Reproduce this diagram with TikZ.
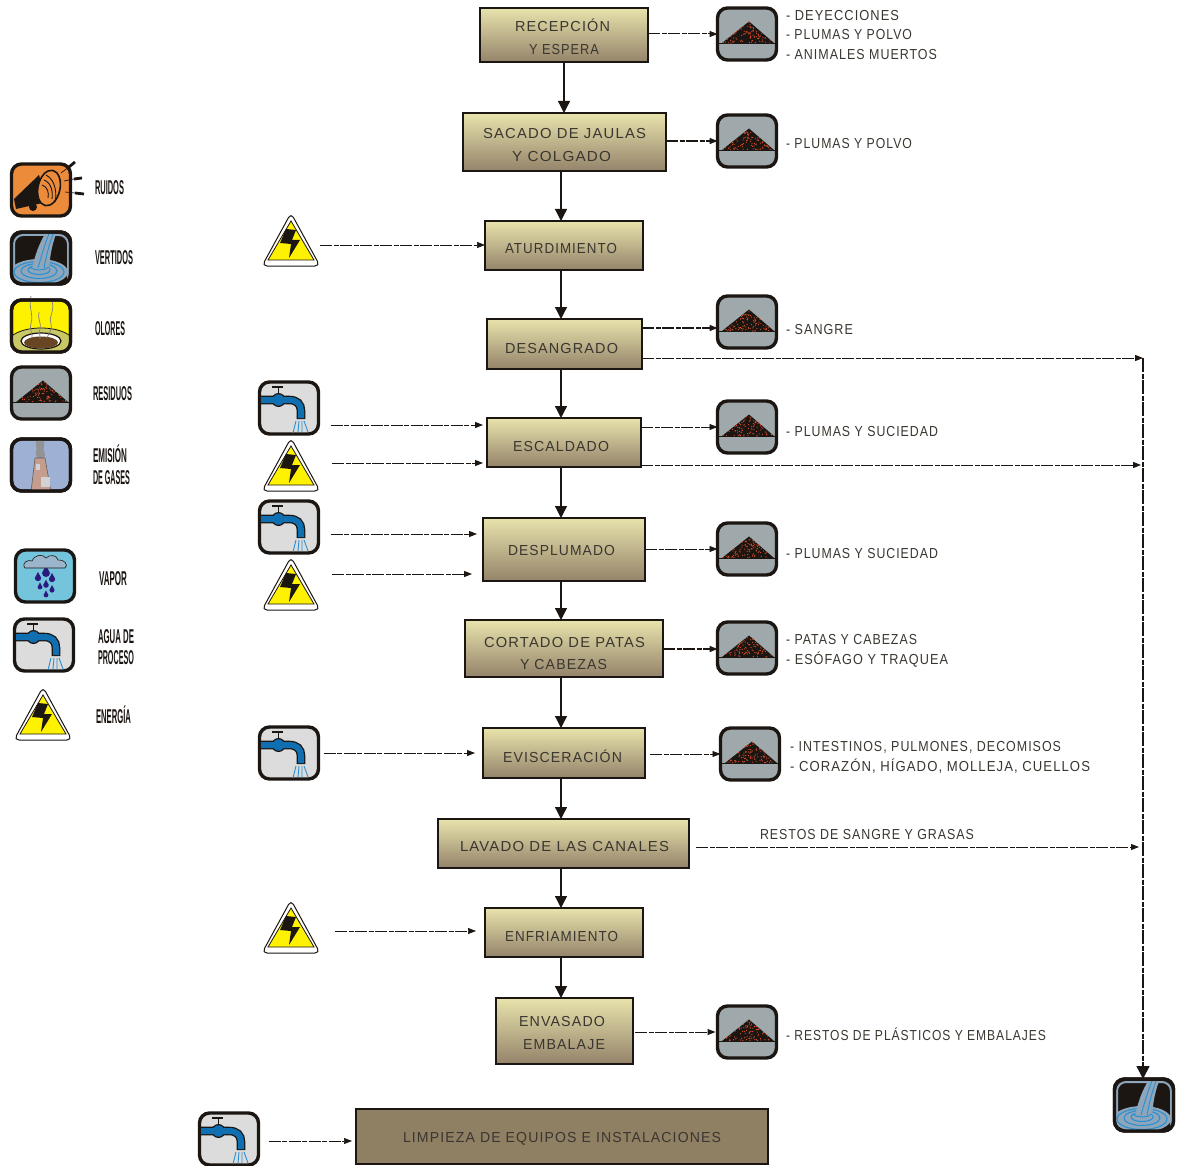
\documentclass[tikz,border=0pt]{standalone}
\usepackage{fontspec}
\usepackage{graphicx}
\usetikzlibrary{arrows.meta}
\setmainfont{Liberation Sans}
\newfontfamily\flowfont[LetterSpace=8]{Liberation Sans}
\newfontfamily\legfont{Liberation Sans Bold}
\definecolor{inkc}{HTML}{1C1613}
\definecolor{txtc}{HTML}{3A3630}
\definecolor{boxt}{HTML}{E8E3AC}
\definecolor{boxb}{HTML}{94836A}
\definecolor{limp}{HTML}{8F7F63}
\definecolor{resg}{HTML}{9FA8AA}
\definecolor{spark}{HTML}{E8502A}
\definecolor{tapg}{HTML}{DCDCDC}
\definecolor{tapb}{HTML}{0F6FB0}
\definecolor{dropb}{HTML}{2B8FD0}
\definecolor{verg}{HTML}{8EA6BC}
\definecolor{orng}{HTML}{EC8C3A}
\definecolor{olive}{HTML}{C8C864}
\definecolor{emib}{HTML}{9FB0D5}
\definecolor{chim}{HTML}{C49D8F}
\definecolor{vapb}{HTML}{74C4DC}
\definecolor{vapc}{HTML}{9AB5CC}
\definecolor{vapd}{HTML}{2A1A80}
\tikzset{
  stepbox/.style={draw=inkc,line width=1.6pt,top color=boxt,bottom color=boxb,inner sep=0,outer sep=0},
  flatbox/.style={draw=inkc,line width=1.6pt,fill=limp,inner sep=0,outer sep=0},
  icobox/.style={draw=inkc,line width=3.4pt,rounded corners=10pt,minimum width=59pt,minimum height=52pt,inner sep=0,outer sep=0},
  enebox/.style={minimum width=58pt,minimum height=52pt,inner sep=0,outer sep=0},
  icoframe/.style={draw=inkc,line width=3.4pt,rounded corners=10pt},
  lab/.style={anchor=base west,inner sep=0,outer sep=0,text=txtc},
  leg/.style={anchor=base west,inner sep=0,outer sep=0,text=inkc},
  flow/.style={draw=inkc,line width=1.3pt,-{Triangle[width=12pt,length=12pt]}},
  sidearr/.style={draw=inkc,line width=1pt,dash pattern=on 12pt off 1.5pt on 5pt off 1.5pt,-{Triangle[width=6pt,length=8pt]}},
  sidethick/.style={sidearr,line width=1.5pt},
  sidethin/.style={sidearr,line width=.7pt},
}
\newcommand\fw[2]{\resizebox{#1pt}{\height}{#2}}
\newcommand\lbl[5]{\node[lab] (#1) at (#2,#3+5) {\fw{#4}{\fontsize{14.5}{15}\flowfont #5}};}
\newcommand\lgd[5]{\node[leg] (#1) at (#2,#3+7) {\fw{#4}{\fontsize{20}{21}\legfont #5}};}
\newcommand\bx[6][stepbox]{\node[#1,minimum width={(#5-#3)*1pt},minimum height={(#6-#4)*1pt}] (#2) at ({(#3+#5)/2},{(#4+#6)/2}) {};}
\newcommand\icoRes[3]{%
  \node[icobox,fill=resg] (#1) at (#2,#3) {};
  \begin{scope}[shift={(#1.center)}]
    \draw[inkc,line width=.6pt] (-28,9) -- (28,9);
    \fill[inkc] (2,-12.5) -- (27,9) -- (-25,9) -- cycle;
    \foreach \i in {1,...,85}{
      \pgfmathsetmacro\su{sqrt(rnd)}
      \pgfmathsetmacro\vv{rnd}
      \fill[spark] ({2*(1-\su)+\su*(1-\vv)*(-25)+\su*\vv*27},{-12.5*(1-\su)+\su*9}) circle (.6);
    }
  \end{scope}}
\newcommand\icoTap[3]{%
  \node[icobox,fill=tapg] (#1) at (#2,#3) {};
  \begin{scope}[shift={(#1.center)}]
    \draw[inkc,line width=1.6pt] (-17,-21) -- (-6,-21) (-10.5,-21) -- (-10.5,-12);
    \draw[inkc,line width=8.6pt] (-28,-8) -- (0,-8) .. controls (8,-8) and (12,-4) .. (12,3) -- (12,11);
    \fill[inkc] (-10.5,-8) circle (7);
    \draw[tapb,line width=6pt] (-28,-8) -- (0,-8) .. controls (8,-8) and (12,-4) .. (12,3) -- (12,10);
    \fill[tapb] (-10.5,-8) circle (5.7);
    \draw[dropb,line width=.9pt] (7,13) -- (4,25) (10,13) -- (9,24) (13,13) -- (13,24) (15,13) -- (19,24);
  \end{scope}}
\newcommand\icoEne[3]{%
  \node[enebox] (#1) at (#2,#3) {};
  \begin{scope}[shift={(#1.center)}]
    \draw[inkc,line width=1pt,fill=white,rounded corners=5pt,line join=round] (0,-27) -- (29,26) -- (-29,26) -- cycle;
    \fill[yellow] (0,-19) -- (23,20) -- (-23,20) -- cycle;
    \draw[inkc,line width=.8pt] (0,-19) -- (23,20) -- (-23,20) -- cycle;
    \fill[inkc] (-5,-11) -- (5,-10) -- (1,0) -- (9,0) -- (-2,18) -- (0,4) -- (-11,3) -- cycle;
  \end{scope}}
\newcommand\icoVer[3]{%
  \node[icobox,fill=inkc] (#1) at (#2,#3) {};
  \begin{scope}[shift={(#1.center)}]
    \begin{scope}
      \clip[rounded corners=10pt] (#1.south west) rectangle (#1.north east);
      \draw[verg,line width=2pt,rounded corners=9pt] (-27,26) -- (-27,-23) -- (27,-23) -- (27,26);
      \fill[verg] (-2,14) ellipse (29 and 13);
      \draw[dropb,line width=1.1pt] (-2,14) ellipse (25 and 10.5) (-2,13) ellipse (18 and 7.5) (-2,12) ellipse (11 and 4.5);
      \fill[verg] (4,-24) -- (15,-24) .. controls (10,-10) and (9,0) .. (8,11) -- (-9,11) .. controls (-6,-3) and (-2,-14) .. (4,-24) -- cycle;
      \draw[dropb,line width=.9pt] (8,-24) .. controls (3,-12) and (0,0) .. (-3,10);
      \draw[dropb,line width=.9pt] (12,-24) .. controls (7,-10) and (5,0) .. (3,10);
      \draw[dropb,line width=1pt] (-12,9) .. controls (-6,13) and (3,13) .. (8,9);
    \end{scope}
    \draw[icoframe] (#1.south west) rectangle (#1.north east);
  \end{scope}}
\newcommand\icoRui[3]{%
  \node[icobox,fill=orng] (#1) at (#2,#3) {};
  \begin{scope}[shift={(#1.center)}]
    \fill[inkc] (-27,9) -- (-2,-15) -- (6,12) -- (-25,19) -- cycle;
    \fill[inkc] (-8,17) circle (4);
    \draw[inkc,line width=1.6pt,fill=orng,rotate around={-12:(8,-2)}] (8,-2) ellipse (11 and 18);
    \draw[inkc,line width=.9pt] (5,-15) .. controls (15,-10) and (16,5) .. (14,12);
    \draw[inkc,line width=.9pt] (3,-10) .. controls (11,-7) and (12,3) .. (11,9);
    \draw[inkc,line width=.9pt] (1,-5) .. controls (7,-3) and (8,3) .. (7,8);
    \draw[inkc,line width=.7pt] (20,-17) -- (28,-23);
    \draw[inkc,line width=2.8pt] (28,-23) -- (34,-28);
    \draw[inkc,line width=.7pt] (23,-9) -- (33,-11);
    \draw[inkc,line width=2.8pt] (33,-11) -- (41,-12);
    \draw[inkc,line width=.7pt] (24,2) -- (34,3);
    \draw[inkc,line width=2.8pt] (34,3) -- (43,4);
  \end{scope}}
\newcommand\icoOlo[3]{%
  \node[icobox,fill=yellow] (#1) at (#2,#3) {};
  \begin{scope}[shift={(#1.center)}]
    \begin{scope}
      \clip[rounded corners=10pt] (#1.south west) rectangle (#1.north east);
      \draw[inkc,fill=olive,line width=.8pt] (0,17) ellipse (33 and 15);
      \draw[inkc,fill=white,line width=1.2pt] (0,15) ellipse (20 and 8);
      \fill[brown!55!black] (0,16.5) ellipse (17 and 6);
    \end{scope}
    \draw[gray,line width=.7pt] (-10,-30) .. controls (-13,-20) and (-7,-10) .. (-10,-3) .. controls (-12,3) and (-8,8) .. (-9,12);
    \draw[gray,line width=.7pt] (-2,-14) .. controls (-4,-8) and (1,-2) .. (-1,3) .. controls (-3,7) and (0,10) .. (-1,13);
    \draw[gray,line width=.7pt] (11,-25) .. controls (14,-15) and (7,-8) .. (10,-2) .. controls (12,3) and (7,8) .. (6,12);
    \draw[icoframe] (#1.south west) rectangle (#1.north east);
  \end{scope}}
\newcommand\icoEmi[3]{%
  \node[icobox,fill=emib] (#1) at (#2,#3) {};
  \begin{scope}[shift={(#1.center)}]
    \fill[gray!85] (-4,-7) .. controls (-7,-12) and (-3,-15) .. (-5,-20) .. controls (-8,-26) and (6,-27) .. (3,-19) .. controls (1,-14) and (6,-12) .. (3,-7) -- cycle;
    \begin{scope}
      \clip[rounded corners=10pt] (#1.south west) rectangle (#1.north east);
      \draw[inkc!70,fill=chim,line width=.6pt] (-6,-7) -- (4,-7) -- (10,27) -- (-10,27) -- cycle;
    \end{scope}
    \fill[gray!35] (0,12) rectangle (9,22);
    \fill[gray!35] (-5,-1) rectangle (-1,5);
    \draw[icoframe] (#1.south west) rectangle (#1.north east);
  \end{scope}}
\newcommand\icoVap[3]{%
  \node[icobox,fill=vapb] (#1) at (#2,#3) {};
  \begin{scope}[shift={(#1.center)}]
    \foreach \dx/\dy/\ds in {-7/2/3.2,1/-3/4,7/3/3.2,-5/11/2.4,1/9/2.8,7/14/2.6,1/19/2.4}{
      \fill[vapd] (\dx,\dy-\ds*1.9) -- (\dx+\ds,\dy) arc (0:180:\ds) -- cycle;
    }
    \draw[inkc,line width=.6pt,fill=vapc] (-20,-8) .. controls (-24,-13) and (-17,-17) .. (-13,-15) .. controls (-10,-22) and (-2,-22) .. (1,-18) .. controls (5,-22) and (12,-21) .. (13,-16) .. controls (19,-17) and (24,-11) .. (20,-8) -- cycle;
  \end{scope}}
\begin{document}
\begin{tikzpicture}[x=1pt,y=-1pt]
\pgfmathsetseed{4242}
\useasboundingbox (0,0) rectangle (1177,1166);
% process boxes
\bx{rec}{480}{8}{648}{62}
\bx{sac}{463}{113}{666}{171}
\bx{atu}{485}{221}{643}{270}
\bx{des}{487}{319}{642}{369}
\bx{esc}{487}{418}{641}{467}
\bx{dpl}{483}{518}{645}{581}
\bx{cor}{465}{620}{663}{677}
\bx{evi}{483}{728}{645}{778}
\bx{lav}{438}{819}{689}{868}
\bx{enf}{485}{908}{643}{957}
\bx{env}{496}{998}{633}{1064}
\bx[flatbox]{lim}{356}{1109}{768}{1164}
% residue icons
\icoRes{r1}{747}{34}
\icoRes{r2}{747}{141}
\icoRes{r3}{747}{322}
\icoRes{r4}{747}{427}
\icoRes{r5}{747}{549}
\icoRes{r6}{747}{648}
\icoRes{r7}{750}{754}
\icoRes{r8}{747}{1032}
% inputs
\icoEne{e1}{291}{240}
\icoTap{t1}{289}{408}
\icoEne{e2}{291}{465}
\icoTap{t2}{289}{527}
\icoEne{e3}{291}{584}
\icoTap{t3}{289}{753}
\icoEne{e4}{291}{927}
\icoTap{t4}{229}{1139}
\icoVer{v0}{1144}{1105}
% legend
\icoRui{lg1}{41}{190}
\icoVer{lg2}{41}{258}
\icoOlo{lg3}{41}{326}
\icoRes{lg4}{41}{393}
\icoEmi{lg5}{41}{465}
\icoVap{lg6}{45}{576}
\icoTap{lg7}{44}{645}
\icoEne{lg8}{43}{714}
% vertical flow
\coordinate (vx) at (561,0);
\draw[flow] (rec.south -| 564,0) -- (sac.north -| 564,0);
\draw[flow] (sac.south -| vx) -- (atu.north -| vx);
\draw[flow] (atu.south -| vx) -- (des.north -| vx);
\draw[flow] (des.south -| vx) -- (esc.north -| vx);
\draw[flow] (esc.south -| vx) -- (dpl.north -| vx);
\draw[flow] (dpl.south -| vx) -- (cor.north -| vx);
\draw[flow] (cor.south -| vx) -- (evi.north -| vx);
\draw[flow] (evi.south -| vx) -- (lav.north -| vx);
\draw[flow] (lav.south -| vx) -- (enf.north -| vx);
\draw[flow] (enf.south -| vx) -- (env.north -| vx);
% outputs to residues
\draw[sidearr] (rec.east |- r1.center) -- (r1.west);
\draw[sidethick] (sac.east |- r2.center) -- (r2.west);
\draw[sidethick] (des.east |- 0,328) -- (r3.west |- 0,328);
\draw[sidethin] (esc.east |- r4.center) -- (r4.west);
\draw[sidethin] (dpl.east |- r5.center) -- (r5.west);
\draw[sidethick] (cor.east |- 0,649) -- (r6.west |- 0,649);
\draw[sidethin,shorten <=5pt] (evi.east |- r7.center) -- (r7.west);
\draw[sidearr,shorten <=2pt,shorten >=2pt] (env.east |- r8.center) -- (r8.west);
% collector
\coordinate (coll) at (1143,358);
\draw[sidearr] (des.east |- coll) -- (coll);
\draw[sidearr,shorten >=2pt] (esc.east |- 0,465) -- (coll |- 0,465);
\draw[sidearr,shorten <=7pt,shorten >=4pt] (lav.east |- 0,847) -- (coll |- 0,847);
\draw[draw=inkc,line width=1.5pt,dash pattern=on 14pt off 1.5pt on 5pt off 1.5pt,-{Triangle[width=13pt,length=13pt]}] (coll) -- (coll |- v0.north);
% inputs to process
\draw[sidethin] (e1.east |- 0,245) -- (atu.west |- 0,245);
\draw[sidearr,shorten <=12pt,shorten >=4pt] (t1.east |- 0,425) -- (esc.west |- 0,425);
\draw[sidearr,shorten <=12pt,shorten >=4pt] (e2.east |- 0,463) -- (esc.west |- 0,463);
\draw[sidearr,shorten <=12pt,shorten >=6pt] (t2.east |- 0,534) -- (dpl.west |- 0,534);
\draw[sidearr,shorten <=12pt,shorten >=11pt] (e3.east |- 0,574) -- (dpl.west |- 0,574);
\draw[sidearr,shorten <=5pt,shorten >=8pt] (t3.east |- t3.center) -- (evi.west |- t3.center);
\draw[sidethin,shorten <=15pt,shorten >=9pt] (e4.east |- 0,931) -- (enf.west |- 0,931);
\draw[sidethin,shorten <=10pt,shorten >=4pt] (t4.east |- 0,1141) -- (lim.west |- 0,1141);
% process labels
\lbl{a1}{515}{27}{95}{RECEPCIÓN}
\lbl{a2}{529}{50}{70}{Y ESPERA}
\lbl{b1}{483}{134}{163}{SACADO DE JAULAS}
\lbl{b2}{512}{157}{99}{Y COLGADO}
\lbl{c1}{505}{249}{112}{ATURDIMIENTO}
\lbl{d1}{505}{348}{113}{DESANGRADO}
\lbl{f1}{513}{446}{96}{ESCALDADO}
\lbl{g1}{508}{550}{107}{DESPLUMADO}
\lbl{h1}{484}{642}{161}{CORTADO DE PATAS}
\lbl{h2}{520}{664}{87}{Y CABEZAS}
\lbl{i1}{503}{757}{119}{EVISCERACIÓN}
\lbl{j1}{460}{846}{209}{LAVADO DE LAS CANALES}
\lbl{k1}{505}{936}{113}{ENFRIAMIENTO}
\lbl{m1}{519}{1021}{86}{ENVASADO}
\lbl{m2}{523}{1044}{82}{EMBALAJE}
\lbl{n1}{403}{1137}{318}{LIMPIEZA DE EQUIPOS E INSTALACIONES}
% side labels
\lbl{s1}{786}{16}{113}{- DEYECCIONES}
\lbl{s2}{786}{35}{126}{- PLUMAS Y POLVO}
\lbl{s3}{786}{55}{151}{- ANIMALES MUERTOS}
\lbl{s4}{786}{144}{126}{- PLUMAS Y POLVO}
\lbl{s5}{786}{329}{67}{- SANGRE}
\lbl{s6}{786}{431}{152}{- PLUMAS Y SUCIEDAD}
\lbl{s7}{786}{553}{152}{- PLUMAS Y SUCIEDAD}
\lbl{s8}{786}{639}{131}{- PATAS Y CABEZAS}
\lbl{s9}{786}{659}{162}{- ESÓFAGO Y TRAQUEA}
\lbl{s10}{790}{746}{271}{- INTESTINOS, PULMONES, DECOMISOS}
\lbl{s11}{790}{766}{300}{- CORAZÓN, HÍGADO, MOLLEJA, CUELLOS}
\lbl{s12}{760}{834}{214}{RESTOS DE SANGRE Y GRASAS}
\lbl{s13}{786}{1035}{260}{- RESTOS DE PLÁSTICOS Y EMBALAJES}
% legend labels
\lgd{l1}{95}{188}{29}{RUIDOS}
\lgd{l2}{95}{258}{38}{VERTIDOS}
\lgd{l3}{95}{328}{30}{OLORES}
\lgd{l4}{93}{393}{39}{RESIDUOS}
\lgd{l5}{93}{455}{34}{EMISIÓN}
\lgd{l6}{93}{477}{37}{DE GASES}
\lgd{l7}{99}{578}{28}{VAPOR}
\lgd{l8}{98}{636}{36}{AGUA DE}
\lgd{l9}{98}{657}{36}{PROCESO}
\lgd{l10}{96}{716}{35}{ENERGÍA}
\end{tikzpicture}
\end{document}
